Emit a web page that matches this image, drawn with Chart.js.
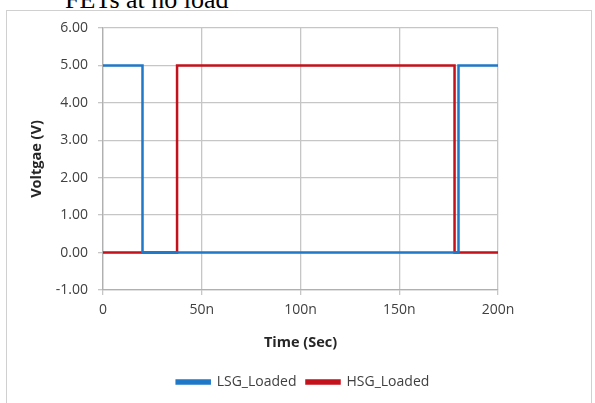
<!DOCTYPE html>
<html><head><meta charset="utf-8">
<script src="https://cdn.jsdelivr.net/npm/chart.js@4/dist/chart.umd.min.js"></script>
<style>
html,body{margin:0;padding:0;background:#fff;width:595px;height:403px;overflow:hidden;}
#frame{position:absolute;left:6px;top:10px;width:586px;height:400px;border:1px solid #d0d0d0;box-sizing:border-box;}
#cap{position:absolute;left:65px;top:-13px;font-family:"Liberation Serif","DejaVu Serif",serif;font-size:26px;color:#000;white-space:nowrap;line-height:26px;}
#wrap{position:absolute;left:0;top:0;width:595px;height:403px;}
</style></head>
<body>
<div id="cap">FETs at no load</div>
<div id="frame"></div>
<div id="wrap"><canvas id="c" width="595" height="403"></canvas></div>
<script>
const timeNs = [0, 20, 20, 180, 180, 200];
const lsgLoaded = [5, 5, 0, 0, 5, 5];
const timeNsH = [0, 37.5, 37.5, 178, 178, 200];
const hsgLoaded = [0, 0, 5, 5, 0, 0];
const xTicks = [0, 50, 100, 150, 200];
const xTickLabels = ["0", "50n", "100n", "150n", "200n"];
const yTicks = [-1, 0, 1, 2, 3, 4, 5, 6];

const FONT = "'Open Sans', 'Liberation Sans', sans-serif";
const pts = (xs, ys) => xs.map((x, i) => ({x: x, y: ys[i]}));

new Chart(document.getElementById('c'), {
  type: 'line',
  data: {
    datasets: [
      {label: 'LSG_Loaded', data: pts(timeNs, lsgLoaded), borderColor: '#1f78c8', backgroundColor: '#1f78c8', borderWidth: 2.5, pointRadius: 0, tension: 0},
      {label: 'HSG_Loaded', data: pts(timeNsH, hsgLoaded), borderColor: '#c4121c', backgroundColor: '#c4121c', borderWidth: 2.5, pointRadius: 0, tension: 0}
    ]
  },
  options: {
    responsive: false,
    animation: false,
    devicePixelRatio: 1,
    layout: {padding: {top: 28, right: 0, left: 11, bottom: 4}},
    plugins: {
      legend: {
        position: 'bottom',
        labels: {font: {family: FONT, size: 14}, color: '#404040', boxWidth: 33, boxHeight: 3, padding: 10, usePointStyle: false}
      },
      tooltip: {enabled: false}
    },
    scales: {
      x: {
        type: 'linear', min: 0, max: 200,
        afterBuildTicks: s => { s.ticks = xTicks.map(v => ({value: v})); },
        afterFit: s => { const lh = s.chart.legend ? s.chart.legend.height : 0; s.height = 403 - 4 - lh - 290; },
        ticks: {callback: (v) => xTickLabels[xTicks.indexOf(v)] ?? '', font: {family: FONT, size: 14}, color: '#404040', padding: 7, maxRotation: 0, autoSkip: false},
        grid: {color: '#c6c6c6', lineWidth: 1.3, tickLength: 5, drawTicks: true},
        border: {color: '#b0b0b0', width: 1.3},
        title: {display: true, text: 'Time (Sec)', font: {family: FONT, size: 14.5, weight: 'bold'}, color: '#262626', padding: {top: 4, bottom: 13}}
      },
      y: {
        min: -1, max: 6,
        afterBuildTicks: s => { s.ticks = yTicks.map(v => ({value: v})); },
        afterFit: s => { s.width = 92; },
        ticks: {callback: v => v.toFixed(2), font: {family: FONT, size: 14}, color: '#404040', padding: 10},
        grid: {color: '#c6c6c6', lineWidth: 1.3, tickLength: 5},
        border: {color: '#b0b0b0', width: 1.3},
        title: {display: true, text: 'Voltgae (V)', font: {family: FONT, size: 14.5, weight: 'bold'}, color: '#262626', padding: {top: 17, bottom: 0}}
      },
      yPad: {
        position: 'right', display: true, min: -1, max: 6,
        afterFit: s => { s.width = 97; },
        ticks: {display: false},
        grid: {display: false, drawTicks: false},
        border: {display: false},
        title: {display: false}
      }
    }
  }
});
</script>
</body></html>
